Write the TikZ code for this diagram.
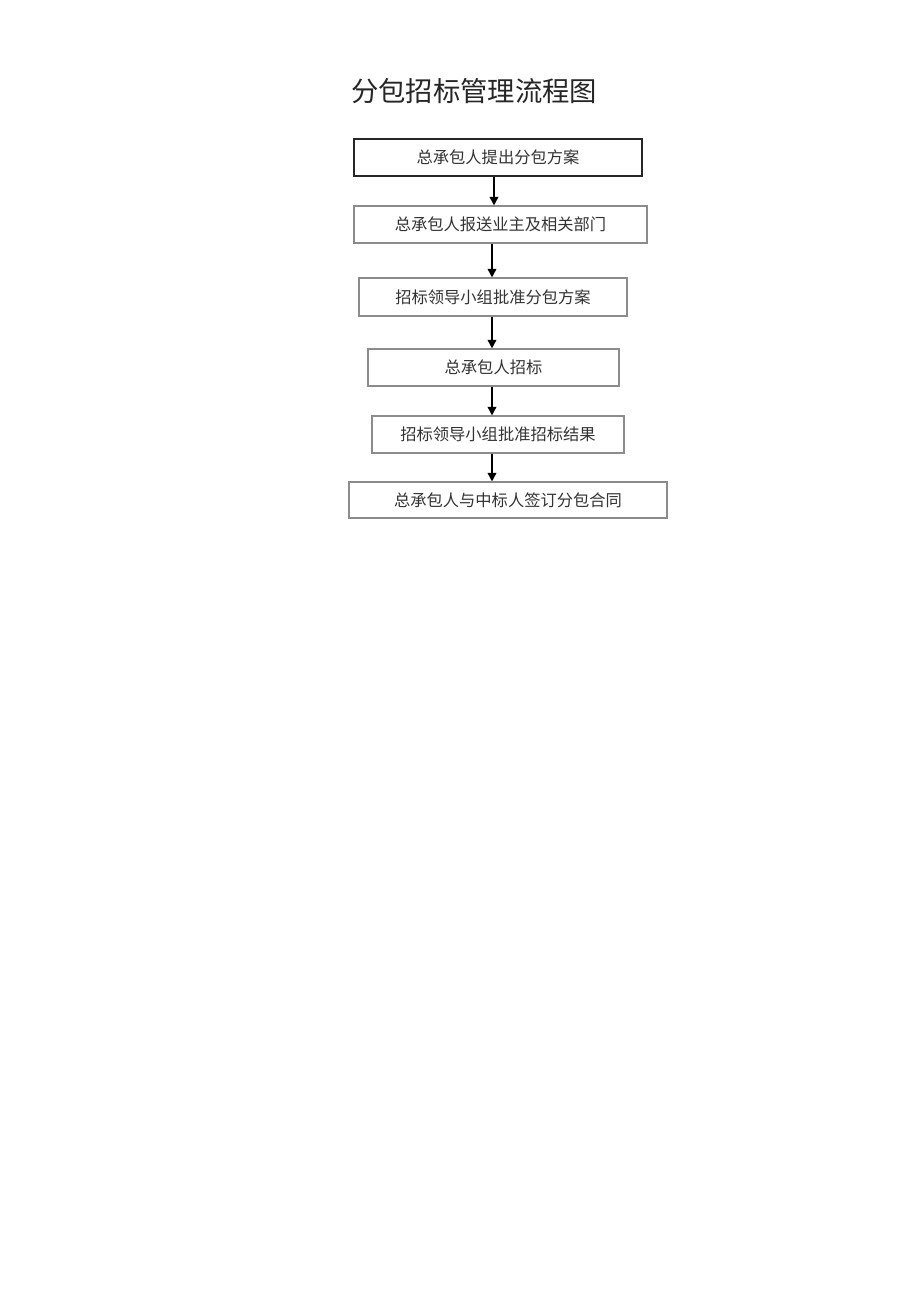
\documentclass[tikz,border=0pt]{standalone}
\usepackage{fontspec}
\newfontfamily\cjk{Noto Sans CJK SC}
\usepackage{tikz}
\usetikzlibrary{arrows.meta}

\begin{document}
\begin{tikzpicture}[x=0.75pt,y=-0.75pt,
	box/.style={draw=black!45,line width=0.8pt,inner sep=0pt,minimum height=27.75pt,text=black!80,font=\cjk\fontsize{12.2pt}{14pt}\selectfont},
	arr/.style={line width=1.3pt,-{Triangle[length=6.5pt,width=6.5pt]}}]
			\useasboundingbox[fill=white] (0,0) rectangle (920,1301);
			
			\node[font=\cjk\fontsize{20.5pt}{24pt}\selectfont,text=black!85] (title) at (474,91) {分包招标管理流程图};
			
			\node[box,draw=black!85,line width=1.1pt,minimum width=216pt] (b1) at (498,157.5) {总承包人提出分包方案};
			\node[box,minimum width=219.75pt] (b2) at (500.5,224.5) {总承包人报送业主及相关部门};
			\node[box,minimum width=201pt,minimum height=28.5pt] (b3) at (493,297) {招标领导小组批准分包方案};
			\node[box,minimum width=188.25pt] (b4) at (493.5,367.5) {总承包人招标};
			\node[box,minimum width=189pt] (b5) at (498,434.5) {招标领导小组批准招标结果};
			\node[box,minimum width=238.5pt,minimum height=27pt] (b6) at (508,500) {总承包人与中标人签订分包合同};
			
			\coordinate (axis) at (492,0);
			\draw[arr] (b1.south -| 494,0) -- (b2.north -| 494,0);
			\draw[arr] (b2.south -| axis) -- (b3.north -| axis);
			\draw[arr] (b3.south -| axis) -- (b4.north -| axis);
			\draw[arr] (b4.south -| axis) -- (b5.north -| axis);
			\draw[arr] (b5.south -| axis) -- (b6.north -| axis);
			
		\end{tikzpicture}
\end{document}
